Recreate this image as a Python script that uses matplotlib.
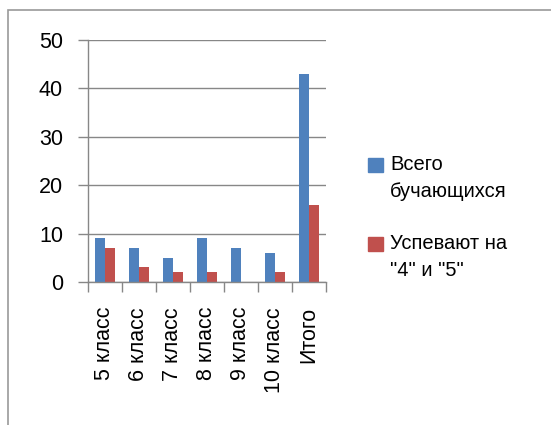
import numpy as np
import matplotlib.pyplot as plt
from matplotlib.patches import Rectangle

categories = ["5 класс", "6 класс", "7 класс", "8 класс", "9 класс", "10 класс", "Итого"]
total = [9, 7, 5, 9, 7, 6, 43]
good = [7, 3, 2, 2, 0, 2, 16]
series_names = ["Всего\nбучающихся", "Успевают на\n\"4\" и \"5\""]
colors = ["#4f81bd", "#c0504d"]

plt.rcParams['font.family'] = ['Liberation Sans', 'DejaVu Sans']

W, H = 551, 425
fig = plt.figure(figsize=(W / 100, H / 100), dpi=100)
ax = fig.add_axes([88 / W, 1 - 282 / H, (326 - 88) / W, (282 - 40) / H])

x = np.arange(len(categories))
w = 0.29
ax.bar(x - w / 2, total, w, color=colors[0])
ax.bar(x + w / 2, good, w, color=colors[1])

ax.set_xlim(-0.5, len(categories) - 0.5)
ax.set_ylim(0, 50)
ax.set_yticks(range(0, 51, 10))
ax.yaxis.grid(True, color="#878787", lw=1)
ax.set_axisbelow(True)

ax.set_xticks(np.arange(-0.5, len(categories), 1))
ax.set_xticklabels([])
ax.set_xticks(x, minor=True)
ax.set_xticklabels(categories, minor=True, rotation=90, fontsize=15.5)
ax.tick_params(axis="x", which="major", length=7, color="#878787", width=1)
ax.tick_params(axis="x", which="minor", length=0, pad=18)
ax.tick_params(axis="y", length=7, color="#878787", width=1, labelsize=15.5, pad=11)

for s in ["top", "right"]:
    ax.spines[s].set_visible(False)
for s in ["left", "bottom"]:
    ax.spines[s].set_color("#878787")
    ax.spines[s].set_linewidth(1)

# legend, drawn by hand so the square sits on the first text line
leg_y = [158, 237]
for name, c, y in zip(series_names, colors, leg_y):
    fig.patches.append(Rectangle((368 / W, 1 - (y + 14) / H), 15 / W, 14 / H,
                                 transform=fig.transFigure, color=c))
    fig.text(390 / W, 1 - (y - 3) / H, name, fontsize=14.5, va="top", ha="left",
             linespacing=1.55)

# chart frame: only left and top edges fall inside the picture
fig.patches.append(Rectangle((7.5 / W, -0.1), 1.2, 1.1 - 10.5 / H,
                             transform=fig.transFigure, fill=False,
                             edgecolor="#9a9a9a", lw=1.2))

fig.savefig("out.png", dpi=100)
